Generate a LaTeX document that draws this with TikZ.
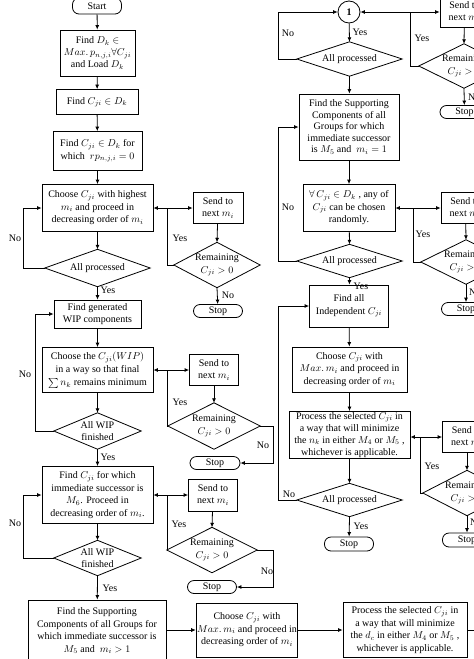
\documentclass[tikz,border=0pt]{standalone}
\usepackage{fontspec}
\setmainfont{Liberation Serif}
\usetikzlibrary{arrows.meta}
\newcommand\myfs{\fontsize{10}{12.5}\selectfont}
\begin{document}
\begin{tikzpicture}[x=1pt,y=-1pt,
  box/.style={draw, line width=0.8pt, rectangle, align=center, inner sep=1pt, font=\myfs},
  term/.style={draw, line width=0.8pt, rectangle, rounded corners=6.5pt, align=center, inner sep=0pt, font=\myfs},
  dia/.style={rectangle, align=center, inner sep=0pt, font=\myfs},
  lab/.style={font=\myfs, inner sep=0pt},
  arr/.style={-{Latex[length=4.5pt,width=4pt]}, line width=0.8pt},
  ln/.style={line width=0.8pt}]
\clip (0,0) rectangle (474,659);
\fill[white] (0,0) rectangle (474,659);
% ---------- left column ----------
\node[term, minimum width=49pt, minimum height=16pt] (start) at (97,6) {Start};
\node[box, minimum width=75pt, minimum height=46pt, font=\fontsize{10}{12}\selectfont] (B1) at (97.5,53) {Find $D_k\in$\\$Max.\,p_{n,j,i}\forall C_{ji}$\\and Load $D_k$};
\node[box, minimum width=82pt, minimum height=25pt] (B2) at (97,102) {Find $C_{ji}\in D_k$};
\node[box, minimum width=89pt, minimum height=39pt] (B3) at (97.5,151) {Find $C_{ji}\in D_k$ for\\which \ $rp_{n,j,i}=0$};
\node[box, minimum width=111pt, minimum height=47pt] (B4) at (97.5,208) {Choose $C_{ji}$ with highest\\$m_i$ and proceed in\\decreasing order of $m_i$};
\node[dia, minimum width=105pt, minimum height=37pt] (D1) at (97.5,268) {All processed};
\node[box, minimum width=87pt, minimum height=28pt, font=\fontsize{10}{12}\selectfont] (B5) at (97.5,314) {Find generated\\WIP components};
\node[box, minimum width=111pt, minimum height=45pt, font=\fontsize{10}{13}\selectfont] (B6) at (97.5,370) {Choose the $C_{ji}(WIP)$\\in a way so that final\\$\sum n_k$ remains minimum};
\node[dia, minimum width=87pt, minimum height=36pt] (D2) at (97.5,431) {All WIP\\finished};
\node[box, minimum width=111pt, minimum height=57pt] (B7) at (97.5,495) {Find $C_{ji}$ for which\\immediate successor is\\$M_6$. Proceed in\\decreasing order of $m_i$.};
\node[dia, minimum width=87pt, minimum height=35pt] (D3) at (97.5,558) {All WIP\\finished};
\node[box, minimum width=138pt, minimum height=62pt] (B8) at (97,631) {Find the Supporting\\Components of all Groups for\\which immediate successor is\\$M_5$ and \ $m_i>1$};
\node[box, minimum width=100pt, minimum height=54pt] (B9) at (247,630) {Choose $C_{ji}$ with\\$Max.\,m_i$ and proceed in\\decreasing order of $m_i$};
\node[box, minimum width=124pt, minimum height=55pt] (B10) at (405,630) {Process the selected $C_{ji}$ in\\a way that will minimize\\the $d_c$ in either $M_4$ or $M_5$ ,\\whichever is applicable.};
% side branches left
\node[box, minimum width=50pt, minimum height=31pt, font=\fontsize{10}{12}\selectfont] (S1) at (218,208) {Send to\\next $m_i$};
\node[dia, minimum width=86pt, minimum height=45pt] (R1) at (217,265) {Remaining\\$C_{ji}>0$};
\node[term, minimum width=49pt, minimum height=13pt] (T1) at (218,311) {Stop};
\node[box, minimum width=49pt, minimum height=31pt, font=\fontsize{10}{12}\selectfont] (S2) at (214,370) {Send to\\next $m_i$};
\node[dia, minimum width=92pt, minimum height=46pt] (R2) at (214,426) {Remaining\\$C_{ji}>0$};
\node[term, minimum width=50pt, minimum height=13pt] (T2) at (215,463) {Stop};
\node[box, minimum width=49pt, minimum height=32pt, font=\fontsize{10}{12}\selectfont] (S3) at (213,495) {Send to\\next $m_i$};
\node[dia, minimum width=90pt, minimum height=45pt] (R3) at (212,550) {Remaining\\$C_{ji}>0$};
\node[term, minimum width=49pt, minimum height=13pt] (T3) at (212,587) {Stop};
% ---------- right column ----------
\node[draw, line width=0.8pt, circle, minimum size=22pt, inner sep=0pt, font=\myfs\bfseries] (C1) at (349,12) {1};
\node[dia, minimum width=105pt, minimum height=34pt] (RD1) at (349.5,59) {All processed};
\node[box, minimum width=100pt, minimum height=66pt, font=\fontsize{10}{11.5}\selectfont] (RB1) at (349,127) {Find the Supporting\\Components of all\\Groups for which\\immediate successor\\is $M_5$ and \ $m_i=1$};
\node[box, minimum width=92pt, minimum height=47pt] (RB2) at (349,208) {$\forall\,C_{ji}\in D_k$ , any of\\$C_{ji}$ can be chosen\\randomly.};
\node[dia, minimum width=105pt, minimum height=33pt] (RD2) at (349.5,261) {All processed};
\node[box, minimum width=79pt, minimum height=42pt] (RB3) at (349,306) {Find all\\Independent $C_{ji}$};
\node[box, minimum width=115pt, minimum height=45pt] (RB4) at (349.5,369.5) {Choose $C_{ji}$ with\\$Max.\,m_i$ and proceed in\\decreasing order of $m_i$};
\node[box, minimum width=121pt, minimum height=47pt, font=\fontsize{10}{12}\selectfont] (RB5) at (349.5,435) {Process the selected $C_{ji}$ in\\a way that will minimize\\the $n_k$ in either $M_4$ or $M_5$ ,\\whichever is applicable.};
\node[dia, minimum width=105pt, minimum height=33pt] (RD3) at (349.5,500) {All processed};
\node[term, minimum width=49pt, minimum height=14pt] (T4) at (349,544) {Stop};
% side branches right
\node[box, minimum width=49pt, minimum height=31pt, font=\fontsize{10}{12}\selectfont] (RS1) at (464.5,12) {Send to\\next $m_i$};
\node[dia, minimum width=90pt, minimum height=44pt] (RR1) at (464,66) {Remaining\\$C_{ji}>0$};
\node[term, minimum width=49pt, minimum height=13pt] (RT1) at (464.5,112) {Stop};
\node[box, minimum width=49pt, minimum height=31pt, font=\fontsize{10}{12}\selectfont] (RS2) at (465.5,208) {Send to\\next $m_i$};
\node[dia, minimum width=90pt, minimum height=44pt] (RR2) at (466,262) {Remaining\\$C_{ji}>0$};
\node[term, minimum width=49pt, minimum height=13pt] (RT2) at (466,309) {Stop};
\node[box, minimum width=49pt, minimum height=31pt, font=\fontsize{10}{12}\selectfont] (RS3) at (467,437) {Send to\\next $m_i$};
\node[dia, minimum width=88pt, minimum height=45pt] (RR3) at (467,493) {Remaining\\$C_{ji}>0$};
\node[term, minimum width=49pt, minimum height=14pt] (RT3) at (467,540) {Stop};
% diamonds outlines
\foreach \n in {D1,D2,D3,R1,R2,R3,RD1,RD2,RD3,RR1,RR2,RR3}
  \draw[ln, line join=miter] (\n.north) -- (\n.east) -- (\n.south) -- (\n.west) -- cycle;
% ---------- coordinates ----------
\coordinate (b1) at (167,208);
\coordinate (b2) at (167,370);
\coordinate (b3) at (167,495);
\coordinate (n2) at (273,463);
\coordinate (n3) at (273,587);
\coordinate (l1) at (23,208);
\coordinate (l2) at (35,314);
\coordinate (l3) at (23,495);
\coordinate (rl1) at (278,12);
\coordinate (rl2) at (278,127);
\coordinate (rl3) at (278,306);
\coordinate (rb1) at (410,12);
\coordinate (rb2) at (413,208);
\coordinate (rb3) at (420,437);
\coordinate (ctop) at (349,-12);
\coordinate (out) at (480,630);
% ---------- left connectors ----------
\draw[arr] (start) -- (B1);
\draw[arr] (B1) -- (B2);
\draw[arr] (B2) -- (B3);
\draw[arr] (B3) -- (B4);
\draw[arr] (B4) -- (D1.north);
\draw[arr] (D1.south) -- (B5);
\draw[arr] (B5) -- (B6);
\draw[arr] (B6) -- (D2.north);
\draw[arr] (D2.south) -- (B7);
\draw[arr] (B7) -- (D3.north);
\draw[arr] (D3.south) -- (B8);
\draw[arr] (B8.east |- B9.west) -- (B9.west);
\draw[arr] (B9) -- (B10);
\draw[ln] (B10.east) -- (out);
\draw[arr] (D1.west) -| (l1) -- (B4.west);
\draw[arr] (D2.west) -| (l2) -- (B5.west);
\draw[arr] (D3.west) -| (l3) -- (B7.west);
\draw[arr] (R1.west) -| (b1) -- (B4.east);
\draw[arr] (b1) -- (S1.west);
\draw[arr] (S1) -- (R1.north);
\draw[arr] (R1.south) -- (T1);
\draw[arr] (R2.west) -| (b2) -- (B6.east);
\draw[arr] (b2) -- (S2.west);
\draw[arr] (S2) -- (R2.north);
\draw[arr] (R2.east) -| (n2) -- (T2.east);
\draw[arr] (R3.west) -| (b3) -- (B7.east);
\draw[arr] (b3) -- (S3.west);
\draw[arr] (S3) -- (R3.north);
\draw[arr] (R3.east) -| (n3) -- (T3.east);
% ---------- right connectors ----------
\draw[arr] (ctop) -- (C1.north);
\draw[arr] (C1) -- (RD1.north);
\draw[arr] (RD1.south) -- (RB1);
\draw[arr] (RB1) -- (RB2);
\draw[arr] (RB2) -- (RD2.north);
\draw[arr] (RD2.south) -- (RB3);
\draw[arr] (RB3) -- (RB4);
\draw[arr] (RB4) -- (RB5);
\draw[arr] (RB5) -- (RD3.north);
\draw[arr] (RD3.south) -- (T4);
\draw[arr] (RD1.west) -| (rl1) -- (C1.west);
\draw[arr] (RD2.west) -| (rl2) -- (RB1.west);
\draw[arr] (RD3.west) -| (rl3) -- (RB3.west);
\draw[arr] (RR1.west) -| (rb1) -- (C1.east);
\draw[arr] (rb1) -- (RS1.west);
\draw[arr] (RS1) -- (RR1.north);
\draw[arr] (RR1.south) -- (RT1);
\draw[arr] (RR2.west) -| (rb2) -- (RB2.east);
\draw[arr] (rb2) -- (RS2.west);
\draw[arr] (RS2) -- (RR2.north);
\draw[arr] (RR2.south) -- (RT2);
\draw[arr] (RR3.west) -| (rb3) -- (RB5.east |- rb3);
\draw[arr] (rb3) -- (RS3.west);
\draw[arr] (RS3) -- (RR3.north);
\draw[arr] (RR3.south) -- (RT3);
% ---------- labels ----------
\node[lab] (y1) at (108,290) {Yes};
\node[lab] (no1) at (15,238) {No};
\node[lab] (y2) at (180,238) {Yes};
\node[lab] (no2) at (228,295) {No};
\node[lab] (no3) at (25,374) {No};
\node[lab] (y3) at (180,402) {Yes};
\node[lab] (y4) at (108,457) {Yes};
\node[lab] (no4) at (263,445) {No};
\node[lab] (y5) at (179,524) {Yes};
\node[lab] (no5) at (267,571) {No};
\node[lab] (no6) at (15,523) {No};
\node[lab] (y6) at (110,588) {Yes};
\node[lab] (no7) at (288,33) {No};
\node[lab] (y7) at (360,32) {Yes};
\node[lab] (y8) at (422,38) {Yes};
\node[lab, anchor=west] (no8) at (468,97) {No};
\node[lab] (no9) at (288,207) {No};
\node[lab] (y9) at (361,286) {Yes};
\node[lab] (y10) at (423,234) {Yes};
\node[lab, anchor=west] (no10) at (469,292) {No};
\node[lab] (y11) at (432,466) {Yes};
\node[lab] (no11) at (289,494) {No};
\node[lab] (y12) at (361,526) {Yes};
\node[lab, anchor=west] (no12) at (470,522) {No};
\end{tikzpicture}
\end{document}
